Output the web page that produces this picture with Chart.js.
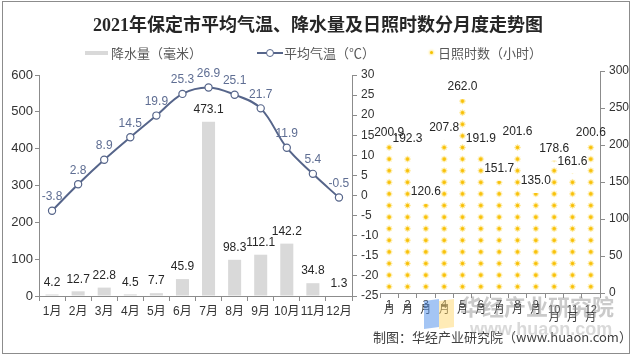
<!DOCTYPE html>
<html>
<head>
<meta charset="utf-8">
<script src="https://cdn.jsdelivr.net/npm/chart.js@4"></script>
<style>
  html,body{margin:0;padding:0;background:#fff;}
  #wrap{position:relative;width:633px;height:355px;overflow:hidden;background:#fff;font-family:'Liberation Sans','Noto Sans CJK SC',sans-serif;}
  canvas{position:absolute;left:0;top:0;}
  .abs{position:absolute;white-space:nowrap;}
  #frame{position:absolute;left:2px;top:1px;width:626px;height:351px;border:1px solid #8c8c8c;pointer-events:none;}
  #title{left:0;width:636px;top:10px;text-align:center;font:bold 18px 'Liberation Serif','Noto Sans CJK SC',serif;color:#262626;}
  .lg{font-size:13px;color:#595959;top:45px;line-height:16px;font-family:'Noto Sans CJK SC',sans-serif;}
  #foot{left:373px;top:328px;font-size:13px;color:#404040;line-height:18px;font-family:'Noto Sans CJK SC',sans-serif;}
  .wm{color:rgba(150,150,150,0.5);font-family:'Noto Sans CJK SC',sans-serif;font-weight:bold;}
</style>
</head>
<body>
<div id="wrap">
  <canvas id="c1" width="633" height="355"></canvas>
  <canvas id="c2" width="633" height="355"></canvas>
  <div id="title" class="abs">2021年保定市平均气温、降水量及日照时数分月度走势图</div>
  <div class="abs" style="left:85px;top:51px;width:23px;height:4px;background:#d9d9d9;"></div>
  <div class="abs lg" style="left:111px;">降水量（毫米）</div>
  <div class="abs" style="left:257px;top:52px;width:26px;height:2px;background:#56658a;"></div>
  <div class="abs" style="left:266px;top:49px;width:6px;height:6px;border:1.2px solid #56658a;border-radius:50%;background:#fff;"></div>
  <div class="abs lg" style="left:284px;">平均气温（℃）</div>
  <div class="abs" style="left:430px;top:51px;width:3px;height:3px;border-radius:50%;background:#f5c200;box-shadow:0 0 2px 1px rgba(255,220,80,0.6);"></div>
  <div class="abs lg" style="left:438px;">日照时数（小时）</div>
  <div id="foot" class="abs">制图：华经产业研究院（www.huaon.com）</div>
  <div class="abs" style="left:424px;top:300px;width:15px;height:28px;background:rgba(90,150,235,0.55);transform:skewY(-8deg);"></div>
  <div class="abs" style="left:439px;top:300px;width:15px;height:28px;background:rgba(255,215,110,0.5);transform:skewY(-8deg);"></div>
  <div class="abs wm" style="left:460px;top:292px;font-size:22px;line-height:26px;">华经产业研究院</div>
  <div class="abs wm" style="left:470px;top:319px;font-size:18px;line-height:20px;font-family:'Liberation Sans',sans-serif;color:rgba(170,170,170,0.45);">www.huaon.com</div>
  <div id="frame"></div>
</div>
<script>
const months = ['1月','2月','3月','4月','5月','6月','7月','8月','9月','10月','11月','12月'];
const monthDigits = ['1','2','3','4','5','6','7','8','9','10','11','12'];
const precipitation = [4.2, 12.7, 22.8, 4.5, 7.7, 45.9, 473.1, 98.3, 112.1, 142.2, 34.8, 1.3];
const temperature = [-3.8, 2.8, 8.9, 14.5, 19.9, 25.3, 26.9, 25.1, 21.7, 11.9, 5.4, -0.5];
const sunshine = [200.9, 192.3, 120.6, 207.8, 262.0, 191.9, 151.7, 201.6, 135.0, 178.6, 161.6, 200.6];

const AXIS = '#8c8c8c';
const TXT = '#333333';
const NUMFONT = "'Liberation Sans','Noto Sans CJK SC',sans-serif";

const labelPlugin = {
  id: 'valLabels',
  afterDatasetsDraw(chart) {
    const ctx = chart.ctx;
    chart.data.datasets.forEach((ds, i) => {
      const meta = chart.getDatasetMeta(i);
      ctx.save();
      ctx.font = '12px ' + NUMFONT;
      ctx.fillStyle = ds.labelColor || '#262626';
      ctx.textAlign = 'center';
      ctx.textBaseline = 'middle';
      meta.data.forEach((el, j) => {
        const v = ds.data[j];
        ctx.fillText(v.toFixed(1), el.x, el.y - (ds.labelOffset || 12));
      });
      ctx.restore();
    });
  }
};

function drawSun(ctx, x, y) {
  const g = ctx.createRadialGradient(x, y, 0, x, y, 3.6);
  g.addColorStop(0, 'rgba(245,185,0,1)');
  g.addColorStop(0.4, 'rgba(250,198,20,0.95)');
  g.addColorStop(0.65, 'rgba(255,220,90,0.4)');
  g.addColorStop(1, 'rgba(255,230,140,0)');
  ctx.fillStyle = g;
  ctx.beginPath();
  ctx.arc(x, y, 3.6, 0, Math.PI * 2);
  ctx.fill();
  ctx.strokeStyle = 'rgba(250,205,50,0.45)';
  ctx.lineWidth = 0.7;
  for (let k = 0; k < 8; k++) {
    const a = k * Math.PI / 4;
    ctx.beginPath();
    ctx.moveTo(x + Math.cos(a) * 1.8, y + Math.sin(a) * 1.8);
    ctx.lineTo(x + Math.cos(a) * 3.4, y + Math.sin(a) * 3.4);
    ctx.stroke();
  }
}

const sunPlugin = {
  id: 'sunDots',
  afterDatasetsDraw(chart) {
    const ctx = chart.ctx;
    const meta = chart.getDatasetMeta(0);
    const step = 11.6;
    meta.data.forEach(el => {
      const top = el.y, base = el.base;
      ctx.save();
      ctx.beginPath();
      ctx.rect(el.x - 7, top, 14, base - top);
      ctx.clip();
      for (let cy = base - step / 2; cy > top - step; cy -= step) {
        drawSun(ctx, el.x, cy);
      }
      ctx.restore();
    });
  }
};

const tickGrid = { display: true, drawOnChartArea: false, drawTicks: true, tickLength: 4, color: AXIS };

new Chart(document.getElementById('c1'), {
  type: 'bar',
  data: {
    labels: months,
    datasets: [
      {
        type: 'line', label: '平均气温（℃）', data: temperature, yAxisID: 'yT',
        borderColor: '#56658a', borderWidth: 2, tension: 0.38,
        pointRadius: 3.6, pointBorderWidth: 1.2, pointBackgroundColor: '#ffffff', pointBorderColor: '#56658a',
        labelColor: '#5f6e93', labelOffset: 14, order: 0
      },
      {
        type: 'bar', label: '降水量（毫米）', data: precipitation, yAxisID: 'yP',
        backgroundColor: '#d9d9d9', barPercentage: 0.5, categoryPercentage: 1.0,
        labelColor: '#262626', labelOffset: 12, order: 1
      }
    ]
  },
  options: {
    responsive: false, animation: false, devicePixelRatio: 1,
    layout: { padding: { left: 0, right: 251, top: 75, bottom: 29 } },
    plugins: { legend: { display: false }, tooltip: { enabled: false } },
    scales: {
      x: {
        grid: Object.assign({}, tickGrid, { tickLength: 5 }),
        border: { color: AXIS },
        ticks: { font: { size: 12, family: NUMFONT }, color: TXT, padding: 3, maxRotation: 0, autoSkip: false },
        afterFit(s) { s.height = 30; }
      },
      yP: {
        position: 'left', min: 0, max: 600,
        grid: tickGrid, border: { color: AXIS },
        ticks: { stepSize: 50, font: { size: 13, family: NUMFONT }, color: TXT, padding: 2 },
        afterFit(s) { s.width = 39; }
      },
      yT: {
        position: 'right', min: -25, max: 30,
        grid: Object.assign({}, tickGrid, { tickLength: 5 }), border: { color: AXIS },
        ticks: { stepSize: 5, font: { size: 12, family: NUMFONT }, color: TXT, padding: 4 },
        afterFit(s) { s.width = 30; }
      }
    }
  },
  plugins: [labelPlugin]
});

new Chart(document.getElementById('c2'), {
  type: 'bar',
  data: {
    labels: monthDigits.map(d => d.length > 1 ? ['', d, '', '月'] : [d, '月']),
    datasets: [
      {
        label: '日照时数（小时）', data: sunshine, yAxisID: 'yS',
        backgroundColor: 'rgba(0,0,0,0)', borderWidth: 0, barPercentage: 0.6, categoryPercentage: 1.0,
        labelColor: '#262626', labelOffset: 12
      }
    ]
  },
  options: {
    responsive: false, animation: false, devicePixelRatio: 1,
    layout: { padding: { left: 380, right: 0, top: 71, bottom: 32 } },
    plugins: { legend: { display: false }, tooltip: { enabled: false } },
    scales: {
      x: {
        grid: Object.assign({}, tickGrid, { tickLength: 5 }),
        border: { color: AXIS },
        ticks: { font: { size: 11, family: NUMFONT, lineHeight: 0.4 }, color: TXT, padding: 5, maxRotation: 0, autoSkip: false },
        afterFit(s) { s.height = 30; }
      },
      yS: {
        position: 'right', min: 0, max: 300,
        grid: Object.assign({}, tickGrid, { tickLength: 5 }), border: { color: AXIS },
        ticks: { stepSize: 50, font: { size: 12, family: NUMFONT }, color: TXT, padding: 4 },
        afterFit(s) { s.width = 33; }
      }
    }
  },
  plugins: [sunPlugin, labelPlugin]
});
</script>
</body>
</html>
